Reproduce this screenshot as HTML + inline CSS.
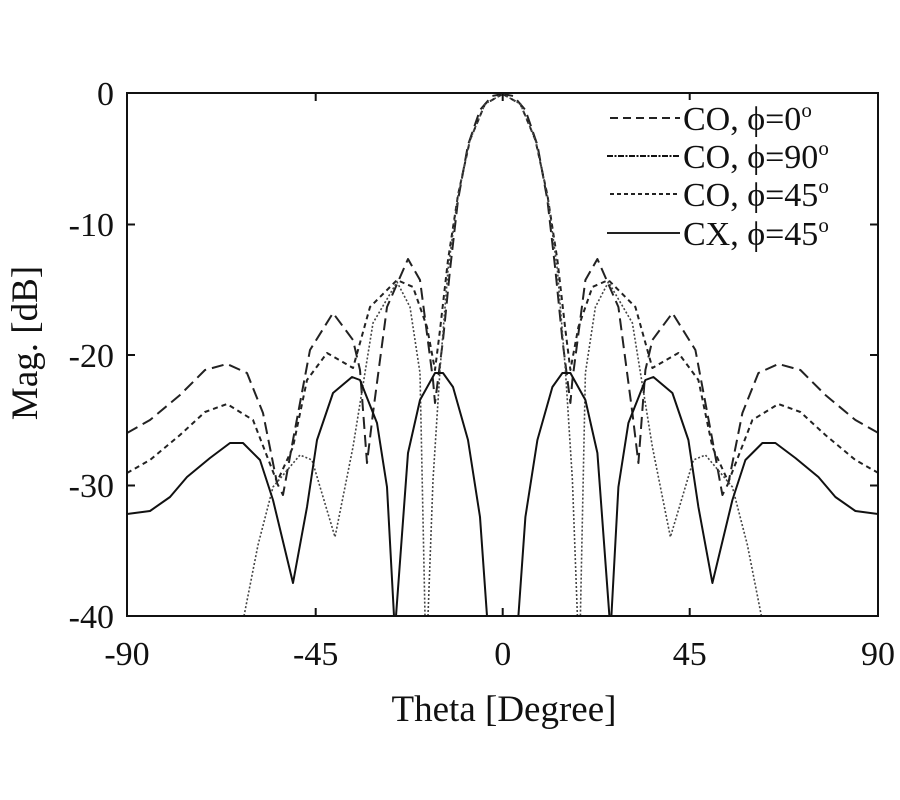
<!DOCTYPE html>
<html><head><meta charset="utf-8"><style>
body{margin:0;background:#fff}
svg{display:block}
text{font-family:"Liberation Serif",serif;fill:#111}
</style></head><body>
<svg width="900" height="800" viewBox="0 0 900 800" xmlns="http://www.w3.org/2000/svg">
<defs>
<polyline id="d0" fill="none" stroke="#222" stroke-width="2" stroke-dasharray="12,6" stroke-linejoin="round" points="127,433 150,420 180,395 205,370 227,364 247,373 263,413 277,483 283,495 293,440 310,350 333,313 353,340 360,370 367,463 373,413 387,307 408,259 420,280 433,380 435,403 443,340 450,270 458,200 468,145 480,110 492,96 502.7,94"/>
<polyline id="d45" fill="none" stroke="#222" stroke-width="2" stroke-dasharray="5,4" stroke-linejoin="round" points="127,473 150,460 180,435 205,412 227,404 253,420 277,482 293,447 307,380 327,353 353,368 370,307 397,280 413,287 427,327 435,370 440,330 448,260 458,195 470,140 485,104 502.7,94"/>
<polyline id="d90" fill="none" stroke="#444" stroke-width="1.6" stroke-dasharray="2,2" points="244,616 258,545 273,487 300,455 312,460 335,537 353,447 373,323 397,282 410,307 420,373 425,616"/>
<polyline id="d90m" fill="none" stroke="#444" stroke-width="1.6" stroke-dasharray="2,2" points="428,616 433,480 440,370 448,270 458,195 470,140 485,104 502.7,94"/>
<polyline id="cx" fill="none" stroke="#111" stroke-width="2" stroke-linejoin="round" points="127,514 150,511 170,497 187,477 210,458 230,443 243,443 260,460 273,500 293,583 307,507 317,440 333,393 352,377 360,380 377,423 387,487 394,616"/>
<polyline id="cx2" fill="none" stroke="#111" stroke-width="2" stroke-linejoin="round" points="396,616 408,453 420,400 435,373 443,373 453,387 468,440 480,517 487,616"/>
<clipPath id="c"><rect x="127" y="93" width="751" height="523"/></clipPath>
</defs>
<g clip-path="url(#c)">
<use href="#d0"/><use href="#d45"/><use href="#d90"/><use href="#d90m"/><use href="#cx"/><use href="#cx2"/>
<g transform="translate(1005.4,0) scale(-1,1)">
<use href="#d0"/><use href="#d45"/><use href="#d90"/><use href="#d90m"/><use href="#cx"/><use href="#cx2"/>
</g>
</g>
<rect x="127" y="93" width="751" height="523" fill="none" stroke="#111" stroke-width="2"/>
<g stroke="#111" stroke-width="2">
<line x1="127" y1="224.5" x2="135" y2="224.5"/><line x1="127" y1="355" x2="135" y2="355"/><line x1="127" y1="485.5" x2="135" y2="485.5"/>
<line x1="878" y1="224.5" x2="870" y2="224.5"/><line x1="878" y1="355" x2="870" y2="355"/><line x1="878" y1="485.5" x2="870" y2="485.5"/>
<line x1="315.7" y1="616" x2="315.7" y2="608"/><line x1="502.7" y1="616" x2="502.7" y2="608"/><line x1="689.7" y1="616" x2="689.7" y2="608"/>
<line x1="315.7" y1="93" x2="315.7" y2="101"/><line x1="502.7" y1="93" x2="502.7" y2="101"/><line x1="689.7" y1="93" x2="689.7" y2="101"/>
</g>
<g font-size="34" text-anchor="end">
<text x="114" y="105">0</text><text x="114" y="236">-10</text><text x="114" y="367">-20</text><text x="114" y="497">-30</text><text x="114" y="628">-40</text>
</g>
<g font-size="34" text-anchor="middle">
<text x="127" y="665">-90</text><text x="315.7" y="665">-45</text><text x="502.7" y="665">0</text><text x="689.7" y="665">45</text><text x="878" y="665">90</text>
<text x="504" y="721" font-size="37">Theta [Degree]</text>
<text transform="translate(37,343) rotate(-90)" font-size="37">Mag. [dB]</text>
</g>
<rect x="605" y="100" width="265" height="145" fill="#fff"/>
<g stroke="#222" stroke-width="2">
<line x1="610" y1="118" x2="680" y2="118" stroke-dasharray="8,5"/>
<line x1="607" y1="156" x2="680" y2="156" stroke-dasharray="6,1.5,2,1.5" stroke="#111"/>
<line x1="610" y1="194" x2="680" y2="194" stroke-dasharray="4,3"/>
<line x1="607" y1="233" x2="680" y2="233"/>
</g>
<g font-size="34">
<text x="683" y="130">CO, ϕ=0<tspan font-size="21" dy="-13">o</tspan></text>
<text x="683" y="168">CO, ϕ=90<tspan font-size="21" dy="-13">o</tspan></text>
<text x="683" y="206">CO, ϕ=45<tspan font-size="21" dy="-13">o</tspan></text>
<text x="683" y="245">CX, ϕ=45<tspan font-size="21" dy="-13">o</tspan></text>
</g>
</svg>
</body></html>
